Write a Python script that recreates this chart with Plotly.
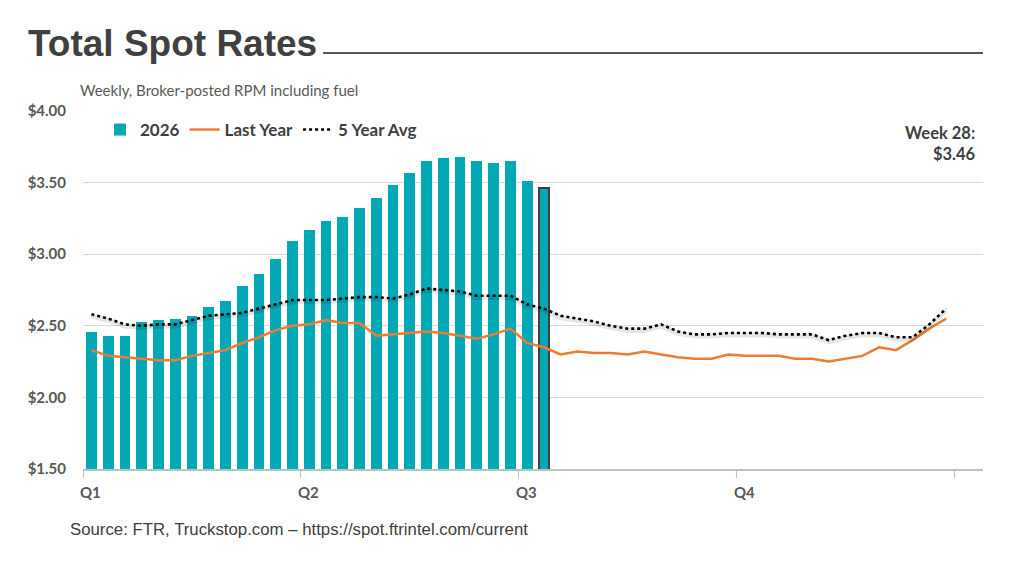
import plotly.graph_objects as go

weeks = list(range(1, 53))
bar_weeks = list(range(1, 29))
rates_2026 = [2.46, 2.43, 2.43, 2.53, 2.54, 2.55, 2.57, 2.63, 2.67, 2.78,
              2.86, 2.97, 3.09, 3.17, 3.23, 3.26, 3.32, 3.39, 3.48, 3.57,
              3.65, 3.67, 3.68, 3.65, 3.64, 3.65, 3.51, 3.46]
last_year = [2.33, 2.29, 2.28, 2.27, 2.26, 2.26, 2.29, 2.31, 2.33, 2.38,
             2.42, 2.47, 2.50, 2.51, 2.54, 2.52, 2.52, 2.43, 2.44, 2.45,
             2.46, 2.45, 2.43, 2.41, 2.44, 2.48, 2.38, 2.35, 2.30, 2.32,
             2.31, 2.31, 2.30, 2.32, 2.30, 2.28, 2.27, 2.27, 2.30, 2.29,
             2.29, 2.29, 2.27, 2.27, 2.25, 2.27, 2.29, 2.35, 2.33, 2.40,
             2.48, 2.55]
five_year_avg = [2.58, 2.55, 2.51, 2.50, 2.51, 2.51, 2.54, 2.57, 2.58, 2.59,
                 2.62, 2.65, 2.68, 2.68, 2.68, 2.69, 2.70, 2.70, 2.69, 2.72,
                 2.76, 2.75, 2.74, 2.71, 2.71, 2.71, 2.65, 2.62, 2.57, 2.55,
                 2.53, 2.50, 2.48, 2.48, 2.51, 2.46, 2.44, 2.44, 2.45, 2.45,
                 2.45, 2.44, 2.44, 2.44, 2.40, 2.43, 2.45, 2.45, 2.42, 2.42,
                 2.51, 2.62]
quarter_ticks = [0.5, 13.5, 26.5, 39.5, 52.5]
quarter_labels = ["Q1", "Q2", "Q3", "Q4"]
y_ticks = [1.5, 2.0, 2.5, 3.0, 3.5, 4.0]
y_labels = ["$1.50", "$2.00", "$2.50", "$3.00", "$3.50", "$4.00"]

TEAL = "#00A9B5"
ORANGE = "#ED7D31"
TXT = "#404040"
LBL = "#595959"
BODY = "Lato, Carlito, Calibri, sans-serif"

# plot-area geometry in pixels
L, R, T, B = 83, 983, 111, 469
W, H = R - L, B - T


def px(x):
    return (x - L) / W


def py(y):
    return (B - y) / H


fig = go.Figure()

n = len(rates_2026)
fig.add_trace(go.Bar(
    x=bar_weeks, y=rates_2026, name="2026", width=0.64,
    marker=dict(color=TEAL,
                line=dict(color=["rgba(0,0,0,0)"] * (n - 1) + ["#404040"],
                          width=[0] * (n - 1) + [2])),
))
fig.add_trace(go.Scatter(
    x=weeks, y=last_year, name="Last Year", mode="lines",
    line=dict(color=ORANGE, width=2.5),
))
# soft shadow under the 5-year average
fig.add_trace(go.Scatter(
    x=weeks, y=[v - 0.012 for v in five_year_avg], mode="lines", showlegend=False,
    line=dict(color="rgba(0,0,0,0.10)", width=5), hoverinfo="skip",
))
fig.add_trace(go.Scatter(
    x=weeks, y=five_year_avg, name="5 Year Avg", mode="lines",
    line=dict(color="#000000", width=2.6, dash="dot"),
))

fig.update_layout(
    width=1024, height=576,
    margin=dict(l=L, r=1024 - R, t=T, b=576 - B),
    paper_bgcolor="white", plot_bgcolor="white",
    bargap=0,
    showlegend=True,
    legend=dict(orientation="h", x=px(100), y=py(112), xanchor="left", yanchor="top",
                font=dict(family=BODY, size=17, color=TXT, weight="bold"),
                bgcolor="rgba(0,0,0,0)", itemwidth=30, tracegroupgap=0),
    xaxis=dict(range=[0.5, 54.2], tickvals=quarter_ticks, showticklabels=False,
               ticks="outside", ticklen=7, tickcolor="#BFBFBF", tickwidth=1,
               showgrid=False, showline=True, linecolor="#BFBFBF", linewidth=1.5,
               zeroline=False),
    yaxis=dict(range=[1.5, 4.0], tickvals=y_ticks, ticktext=y_labels,
               showgrid=True, gridcolor="#D9D9D9", gridwidth=1, zeroline=False,
               tickfont=dict(family=BODY, size=15, color=LBL, weight="bold"),
               ticklabelstandoff=16, showline=False),
    font=dict(family=BODY, color=TXT),
)

for pos, lab in zip(quarter_ticks, quarter_labels):
    fig.add_annotation(x=pos, y=0, xref="x", yref="paper", yanchor="top",
                       xanchor="left", text=lab, showarrow=False, xshift=-5, yshift=-12,
                       font=dict(family=BODY, size=15, color=LBL, weight="bold"))

fig.add_annotation(x=px(978), y=py(121), xref="paper", yref="paper", xanchor="right",
                   yanchor="top", align="right", showarrow=False,
                   text="Week 28:<br>$3.46",
                   font=dict(family=BODY, size=16.5, color=TXT, weight="bold"))

fig.add_annotation(x=px(26), y=py(44), xref="paper", yref="paper",
                   xanchor="left", yanchor="middle", showarrow=False,
                   text="Total Spot Rates",
                   font=dict(family="Liberation Sans Narrow, Arial Narrow, Liberation Sans, Arial",
                             size=37, color=TXT, weight="bold"))
fig.add_shape(type="line", xref="paper", yref="paper",
              x0=px(323), x1=1.0, y0=py(53), y1=py(53),
              line=dict(color="#595959", width=2))

fig.add_annotation(x=px(78), y=py(90), xref="paper", yref="paper",
                   xanchor="left", yanchor="middle", showarrow=False,
                   text="Weekly, Broker-posted RPM including fuel",
                   font=dict(family=BODY, size=15, color=LBL))

fig.add_annotation(x=px(68), y=py(529), xref="paper", yref="paper",
                   xanchor="left", yanchor="middle", showarrow=False,
                   text="Source: FTR, Truckstop.com \u2013 https://spot.ftrintel.com/current",
                   font=dict(family="Liberation Sans, Arial", size=16.8, color=TXT))

fig.write_html("out.html")
